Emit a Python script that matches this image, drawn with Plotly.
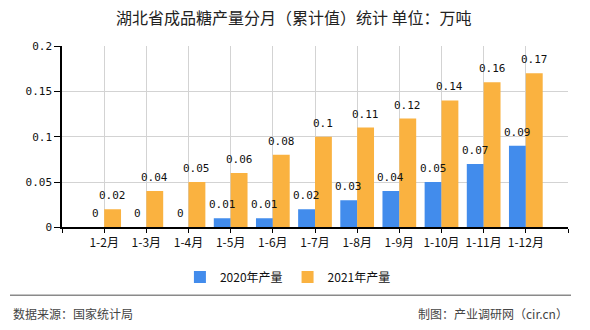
import plotly.graph_objects as go

categories = ["1-2月", "1-3月", "1-4月", "1-5月", "1-6月", "1-7月", "1-8月", "1-9月", "1-10月", "1-11月", "1-12月"]
values_2020 = [0, 0, 0, 0.01, 0.01, 0.02, 0.03, 0.04, 0.05, 0.07, 0.09]
values_2021 = [0.02, 0.04, 0.05, 0.06, 0.08, 0.1, 0.11, 0.12, 0.14, 0.16, 0.17]
series_names = ["2020年产量", "2021年产量"]
y_ticks = [0, 0.05, 0.1, 0.15, 0.2]
y_tick_text = ["0", "0.05", "0.1", "0.15", "0.2"]
title_text = "湖北省成品糖产量分月（累计值）统计 单位：万吨"
source_text = "数据来源：国家统计局"
credit_text = "制图：产业调研网（cir.cn）"

W, H = 590, 330
L, R, T, B = 62, 22, 46, 101
PW, PH = W - L - R, H - T - B

def px2x(px):
    return (px - L) / PW

def px2y(py):
    return (H - B - py) / PH

BLUE = "#428CEC"
ORANGE = "#FAB240"
NUM_FONT = "DejaVu Sans Mono"
CJK_FONT = "Noto Sans CJK SC"

xpos = list(range(1, len(categories) + 1))

fig = go.Figure()
fig.add_trace(go.Bar(x=xpos, y=values_2020, name=series_names[0], marker=dict(color=BLUE, line=dict(width=0))))
fig.add_trace(go.Bar(x=xpos, y=values_2021, name=series_names[1], marker=dict(color=ORANGE, line=dict(width=0))))

annotations = []
for i, (a, b) in enumerate(zip(values_2020, values_2021)):
    for val, off in ((a, -0.2), (b, 0.2)):
        annotations.append(dict(
            x=xpos[i] + off, y=val, xref="x", yref="y", text=f"{val:g}",
            showarrow=False, yanchor="bottom", yshift=5,
            font=dict(family=NUM_FONT, size=11, color="#111"),
        ))

annotations.append(dict(
    x=px2x(W / 2 - 1), y=px2y(17), xref="paper", yref="paper", text=title_text,
    showarrow=False, xanchor="center", yanchor="middle",
    font=dict(family=CJK_FONT, size=16, color="#222"),
))
annotations.append(dict(
    x=px2x(11), y=px2y(316), xref="paper", yref="paper", text=source_text,
    showarrow=False, xanchor="left", yanchor="middle",
    font=dict(family=CJK_FONT, size=12, color="#444"),
))
annotations.append(dict(
    x=px2x(570), y=px2y(316), xref="paper", yref="paper", text=credit_text,
    showarrow=False, xanchor="right", yanchor="middle",
    font=dict(family=CJK_FONT, size=12, color="#444"),
))

shapes = [dict(
    type="line", xref="paper", yref="paper",
    x0=px2x(10), x1=px2x(571), y0=px2y(297.5), y1=px2y(297.5),
    line=dict(color="#8a8a8a", width=1.5),
)]

fig.update_layout(
    width=W, height=H,
    margin=dict(l=L, r=R, t=T, b=B, pad=0),
    paper_bgcolor="white", plot_bgcolor="white",
    barmode="group", bargap=0.2, bargroupgap=0,
    showlegend=True,
    legend=dict(
        orientation="h", xref="container", yref="container",
        x=0.488, xanchor="center", y=1 - 277 / H, yanchor="middle",
        font=dict(family=CJK_FONT, size=12, color="#111"),
        itemwidth=30, tracegroupgap=0,
    ),
    annotations=annotations,
    shapes=shapes,
    xaxis=dict(
        range=[0, 12], tickmode="array",
        tickvals=[0] + xpos + [12], ticktext=[""] + categories + [""],
        showgrid=True, gridcolor="#d3d3d3", gridwidth=1,
        showline=True, linecolor="#000", linewidth=1.5,
        ticks="outside", ticklen=4, tickcolor="#000",
        tickfont=dict(family=CJK_FONT, size=12, color="#111"),
        zeroline=False, fixedrange=True,
    ),
    yaxis=dict(
        range=[0, 0.2], tickmode="array", tickvals=y_ticks, ticktext=y_tick_text,
        showgrid=True, gridcolor="#d3d3d3", gridwidth=1,
        showline=True, linecolor="#000", linewidth=1.5,
        ticks="outside", ticklen=6, tickcolor="#000",
        tickfont=dict(family=NUM_FONT, size=11, color="#111"),
        zeroline=False, fixedrange=True,
    ),
)

fig.write_html("out.html")
